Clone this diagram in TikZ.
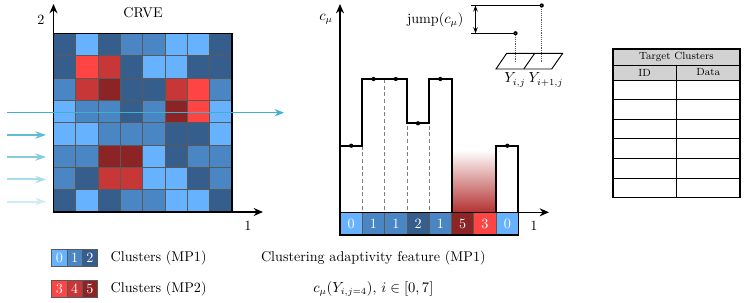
\documentclass[tikz,border=0pt]{standalone}
\usetikzlibrary{arrows.meta}
\definecolor{clr0}{RGB}{102,178,255}
\definecolor{clr1}{RGB}{74,134,196}
\definecolor{clr2}{RGB}{54,94,140}
\definecolor{clr3}{RGB}{255,68,68}
\definecolor{clr4}{RGB}{200,55,55}
\definecolor{clr5}{RGB}{140,36,38}
\definecolor{scanblue}{RGB}{64,176,208}
\tikzset{
  axisline/.style={line width=1.2pt,-{Stealth[length=7pt,width=6pt]}},
  gridcell/.style={draw=black!65,line width=0.6pt},
  stepline/.style={line width=1.5pt,line join=miter},
  scanlong/.style={scanblue,line width=0.9pt,-{Stealth[length=7pt,width=5.5pt]}},
  scanshort/.style={line width=1.5pt,-{Stealth[length=8pt,width=5.5pt]}},
  numtext/.style={white,inner sep=0pt},
  tabletext/.style={font=\fontsize{7.8}{9}\selectfont}
}
\begin{document}
\begin{tikzpicture}[x=0.75pt,y=-0.75pt,font=\fontsize{10.6}{12.7}\selectfont]
  \useasboundingbox (0,0) rectangle (747,303);
  \def\cellw{22.3}
  % CRVE grid
  \foreach \row [count=\r from 0] in {{2,0,2,1,1,0,0,2},{2,3,4,2,0,0,2,2},{1,4,5,2,2,4,3,1},{0,1,1,2,1,5,3,0},{0,0,1,1,1,2,2,0},{1,1,5,5,0,2,1,1},{1,2,4,4,0,0,2,1},{2,0,2,1,1,0,0,2}}
    \foreach \c [count=\k from 0] in \row
      \filldraw[gridcell,fill=clr\c] (53.5+\k*\cellw,33.5+\r*\cellw) rectangle ++(\cellw,\cellw);
  \draw[line width=1pt] (53.5,33.5) rectangle (232,212);
  \coordinate (gO) at (53.5,212);
  \coordinate (gX) at (263,212);
  \coordinate (gY) at (53.5,4);
  \draw[axisline] (gO) -- (gX);
  \draw[axisline] (gO) -- (gY);
  \node (gXlabel) at (248,226) {1};
  \node (gYlabel) at (41,20) {2};
  \node (crve) at (143,13) {CRVE};
  % scan arrows
  \coordinate (scanA) at (7,112.7);
  \coordinate (scanB) at (284,112.7);
  \draw[scanlong] (scanA) -- (scanB);
  \foreach \y/\o [count=\n] in {135/85,157/65,179.5/45,201.5/25} {
    \coordinate (sA\n) at (7,\y);
    \coordinate (sB\n) at (46,\y);
    \draw[scanshort,scanblue!\o!white] (sA\n) -- (sB\n);
  }

  % adaptivity feature plot
  \shade[top color=white,bottom color=clr4!90!black] (451.5,150) rectangle (496.1,212.3);
  \foreach \x in {362.3,384.6,406.9,429.2}
    \draw[densely dashed,gray,line width=0.6pt] (\x,79) -- (\x,212.3);
  \draw[stepline] (340,145.7) -- (362.3,145.7) -- (362.3,79) -- (406.9,79) -- (406.9,123.3)
    -- (429.2,123.3) -- (429.2,79) -- (451.5,79) -- (451.5,212.3);
  \draw[stepline] (496.1,212.3) -- (496.1,145.7) -- (518.4,145.7) -- (518.4,212.3);
  \foreach \x/\y in {351.2/145.7,373.5/79,395.8/79,418/123.3,440.3/79,507.3/145.7}
    \fill (\x,\y) circle (1.6pt);
  \foreach \v [count=\k from 0] in {0,1,1,2,1,5,3,0} {
    \filldraw[gridcell,fill=clr\v] (340+\k*\cellw,212.3) rectangle ++(\cellw,\cellw);
    \node[numtext] (bar\k) at (351.2+\k*\cellw,223.5) {\v};
  }
  \draw[line width=1.2pt] (340,212.3) rectangle (518.4,234.7);
  \coordinate (pO) at (340,212.3);
  \coordinate (pX) at (549,212.3);
  \coordinate (pY) at (340,4);
  \draw[axisline] (pO) -- (pX);
  \draw[axisline] (pO) -- (pY);
  \node (pXlabel) at (534,226) {1};
  \node (pYlabel) at (326,19) {$c_\mu$};

  % jump inset
  \coordinate (jTop) at (541.7,5.5);
  \coordinate (jLow) at (515.5,33.3);
  \coordinate (jTopL) at (471,5.5);
  \coordinate (jLowL) at (471,33.3);
  \draw[line width=0.8pt] (jTopL) -- (jTop);
  \draw[line width=0.8pt] (jLowL) -- (jLow);
  \draw[line width=0.8pt,{Stealth[length=4.5pt]}-{Stealth[length=4.5pt]}] (475.5,5.5) -- (475.5,33.3);
  \fill (jTop) circle (1.6pt);
  \fill (jLow) circle (1.6pt);
  \draw[densely dotted,gray!70!black] (jTop) -- (541.7,62);
  \draw[densely dotted,gray!70!black] (jLow) -- (515.5,62);
  \draw[line width=0.7pt] (496,69) -- (506.7,53.3) -- (562.7,53.3) -- (551.7,69) -- cycle;
  \draw[line width=0.7pt] (523.8,69) -- (534.7,53.3);
  \node[anchor=east] (jlabel) at (468,20) {jump($c_\mu$)};
  \node (yij) at (515,80) {$Y_{i,j}$};
  \node (yipj) at (546,80) {$Y_{i+1,j}$};

  % target clusters table
  \fill[gray!35] (612.7,49) rectangle (740,80);
  \draw[line width=0.6pt] (612.7,65) -- (740,65);
  \foreach \y in {80,99.5,119,138.7,158.3,178}
    \draw[line width=0.6pt] (612.7,\y) -- (740,\y);
  \draw[line width=0.6pt] (676.7,65) -- (676.7,197.3);
  \draw[line width=1.2pt] (612.7,49) rectangle (740,197.3);
  \node[tabletext] (ttitle) at (676.4,57) {Target Clusters};
  \node[tabletext] (tid) at (644.7,72.5) {ID};
  \node[tabletext] (tdata) at (708.3,72.5) {Data};

  % legend
  \foreach \v [count=\k from 0] in {0,1,2} {
    \filldraw[gridcell,fill=clr\v] (51.7+\k*15.3,249) rectangle ++(15.3,17.7);
    \node[numtext] (lb\k) at (59.35+\k*15.3,257.85) {\v};
  }
  \foreach \v [count=\k from 0] in {3,4,5} {
    \filldraw[gridcell,fill=clr\v] (51.7+\k*15.3,280) rectangle ++(15.3,17.7);
    \node[numtext] (lr\k) at (59.35+\k*15.3,288.85) {\v};
  }
  \node[anchor=west] (mp1) at (106,257.7) {Clusters (MP1)};
  \node[anchor=west] (mp2) at (106,288.8) {Clusters (MP2)};
  \node (feature) at (373.3,257.7) {Clustering adaptivity feature (MP1)};
  \node (formula) at (373.3,289) {$c_\mu(Y_{i,j=4})$, $i\in[0,7]$};
\end{tikzpicture}
\end{document}
